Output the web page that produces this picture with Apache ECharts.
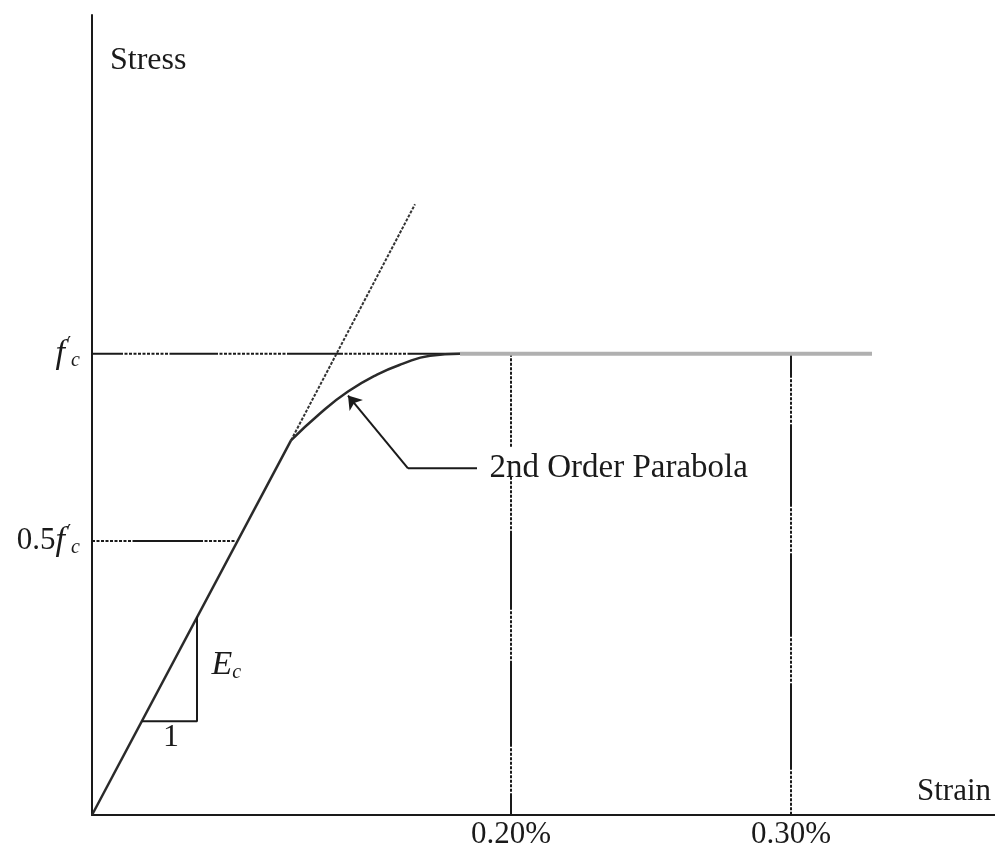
<!DOCTYPE html>
<html>
<head>
<meta charset="utf-8">
<script src="https://cdn.jsdelivr.net/npm/echarts@6/dist/echarts.min.js"></script>
<style>
  html, body { margin: 0; padding: 0; background: #fff; }
  #chart { width: 995px; height: 850px; }
</style>
</head>
<body>
<div id="chart"></div>
<script>
// schematic units: x = strain (drawing units), y = stress (drawing units)
const fcLevel = 463
const halfFcLevel = 275
const strainTicks = [419, 699]
const strainTickLabels = ['0.20%', '0.30%']

// linear elastic branch
const linearX = [0, 199]
const linearY = [0, 376]

// 2nd order parabola up to f'c
const parabolaX = [199, 228, 256, 285, 311, 338, 368]
const parabolaY = [376, 403, 425, 442, 453, 461, 463]

// tangent (initial modulus) continued as dotted line
const tangentX = [199, 323]
const tangentY = [376, 613]

// flat plateau after peak (grey)
const plateauX = [368, 780]
const plateauY = [463, 463]

// slope triangle
const triX = [105, 105, 50]
const triY = [199, 94, 94]

// leader for the parabola note
const leaderX = [385, 316]
const leaderY = [348, 348]
const arrowFrom = [316, 348]
const arrowTo = [256, 421]

const serif = '"Liberation Serif", "DejaVu Serif", serif'
const ink = '#1a1a1a'

// build dash arrays from runs of solid ('s'), dotted ('d') and blank ('g') stretches
function pattern(runs) {
  const out = []
  runs.forEach(([kind, len]) => {
    if (kind === 's') { out.push(len, 0) }
    else if (kind === 'g') { out.push(0, len) }
    else {
      let left = len
      while (left > 0) {
        const on = Math.min(3, left); left -= on
        const off = Math.min(1.5, left); left -= off
        out.push(on, off)
      }
    }
  })
  return out
}

const fcDash = pattern([['s', 28], ['d', 52], ['s', 43], ['d', 75], ['s', 50], ['d', 68], ['s', 52]])
const halfDash = pattern([['d', 41], ['s', 67], ['d', 36]])
const v1Dash = pattern([['d', 93], ['g', 30], ['d', 57], ['s', 73], ['d', 57], ['s', 80], ['d', 50], ['s', 23]])
const v2Dash = pattern([['s', 21], ['d', 50], ['s', 79], ['d', 50], ['s', 80], ['d', 50], ['s', 83], ['d', 45], ['s', 5]])

const zip = (xs, ys) => xs.map((x, i) => [x, ys[i]])

const chart = echarts.init(document.getElementById('chart'), null, { renderer: 'canvas' })

chart.setOption({
  backgroundColor: '#fff',
  animation: false,
  grid: { left: 92, right: 0, top: 15, bottom: 32 },
  xAxis: {
    type: 'value', min: 0, max: 903,
    splitLine: { show: false },
    axisTick: { show: false },
    axisLine: { lineStyle: { color: ink, width: 2 } },
    axisLabel: {
      customValues: strainTicks,
      formatter: v => strainTickLabels[strainTicks.indexOf(v)],
      fontFamily: serif, fontSize: 31, color: ink, margin: 4
    }
  },
  yAxis: {
    type: 'value', min: 0, max: 803,
    splitLine: { show: false },
    axisTick: { show: false },
    axisLine: { lineStyle: { color: ink, width: 2 } },
    axisLabel: {
      customValues: [halfFcLevel, fcLevel],
      formatter: v => v === fcLevel ? '{f|f}{pr|′}{c|c}' : '{n|0.5}{f|f}{pr|′}{c|c}',
      margin: 12,
      rich: {
        f: { fontFamily: serif, fontStyle: 'italic', fontSize: 34, color: ink },
        n: { fontFamily: serif, fontSize: 31, color: ink },
        pr: { fontFamily: '"DejaVu Serif", serif', fontSize: 18, color: ink, padding: [0, 0, 16, 2] },
        c: { fontFamily: serif, fontStyle: 'italic', fontSize: 20, color: ink, padding: [14, 0, 0, 0] }
      }
    }
  },
  graphic: [
    { type: 'text', left: 110, top: 45, style: { text: 'Stress', font: '32px ' + serif, fill: ink } },
    { type: 'text', left: 917, top: 776, style: { text: 'Strain', font: '31px ' + serif, fill: ink } }
  ],
  series: [
    {
      // f'c reference line
      type: 'line', data: [[0, fcLevel], [368, fcLevel]], symbol: 'none',
      lineStyle: { color: ink, width: 2, type: fcDash }
    },
    {
      type: 'line', data: [[0, halfFcLevel], [144, halfFcLevel]], symbol: 'none',
      lineStyle: { color: ink, width: 2, type: halfDash }
    },
    {
      type: 'line', data: [[strainTicks[0], fcLevel], [strainTicks[0], 0]], symbol: 'none',
      lineStyle: { color: ink, width: 2, type: v1Dash }
    },
    {
      type: 'line', data: [[strainTicks[1], fcLevel], [strainTicks[1], 0]], symbol: 'none',
      lineStyle: { color: ink, width: 2, type: v2Dash }
    },
    {
      type: 'line', data: zip(plateauX, plateauY), symbol: 'none',
      lineStyle: { color: '#b0b0b0', width: 4 }
    },
    {
      type: 'line', data: zip(tangentX, tangentY), symbol: 'none',
      lineStyle: { color: '#333', width: 2, type: [3, 1.5] }
    },
    {
      type: 'line', data: zip(linearX, linearY), symbol: 'none',
      lineStyle: { color: '#2a2a2a', width: 2.5 }
    },
    {
      type: 'line', data: zip(parabolaX, parabolaY), symbol: 'none',
      smooth: 0.5,
      lineStyle: { color: '#2a2a2a', width: 2.5 }
    },
    {
      type: 'line', data: zip(triX, triY), symbol: 'none',
      lineStyle: { color: ink, width: 2 }
    },
    {
      type: 'line', data: zip(leaderX, leaderY), symbol: 'none',
      lineStyle: { color: ink, width: 2 }
    },
    {
      type: 'lines', coordinateSystem: 'cartesian2d',
      symbol: ['none', 'arrow'], symbolSize: 13,
      lineStyle: { color: ink, width: 2, opacity: 1, curveness: 0 },
      data: [{ coords: [arrowFrom, arrowTo] }]
    },
    {
      type: 'scatter', symbol: 'circle', symbolSize: 1,
      itemStyle: { color: 'transparent', opacity: 1 },
      data: [
        { value: [leaderX[0], leaderY[0]], label: { show: true, opacity: 1, position: 'right', distance: 12, formatter: '2nd Order Parabola', fontFamily: serif, fontSize: 33, color: ink } },
        { value: [119, 150], label: { show: true, opacity: 1, position: 'right', distance: 0, formatter: '{e|E}{c|c}', rich: {
          e: { fontFamily: serif, fontStyle: 'italic', fontSize: 34, color: ink },
          c: { fontFamily: serif, fontStyle: 'italic', fontSize: 20, color: ink, padding: [14, 0, 0, 0] }
        } } },
        { value: [79, 78], label: { show: true, opacity: 1, position: 'inside', formatter: '1', fontFamily: serif, fontSize: 32, color: ink, textBorderWidth: 0 } }
      ]
    }
  ]
})
</script>
</body>
</html>
